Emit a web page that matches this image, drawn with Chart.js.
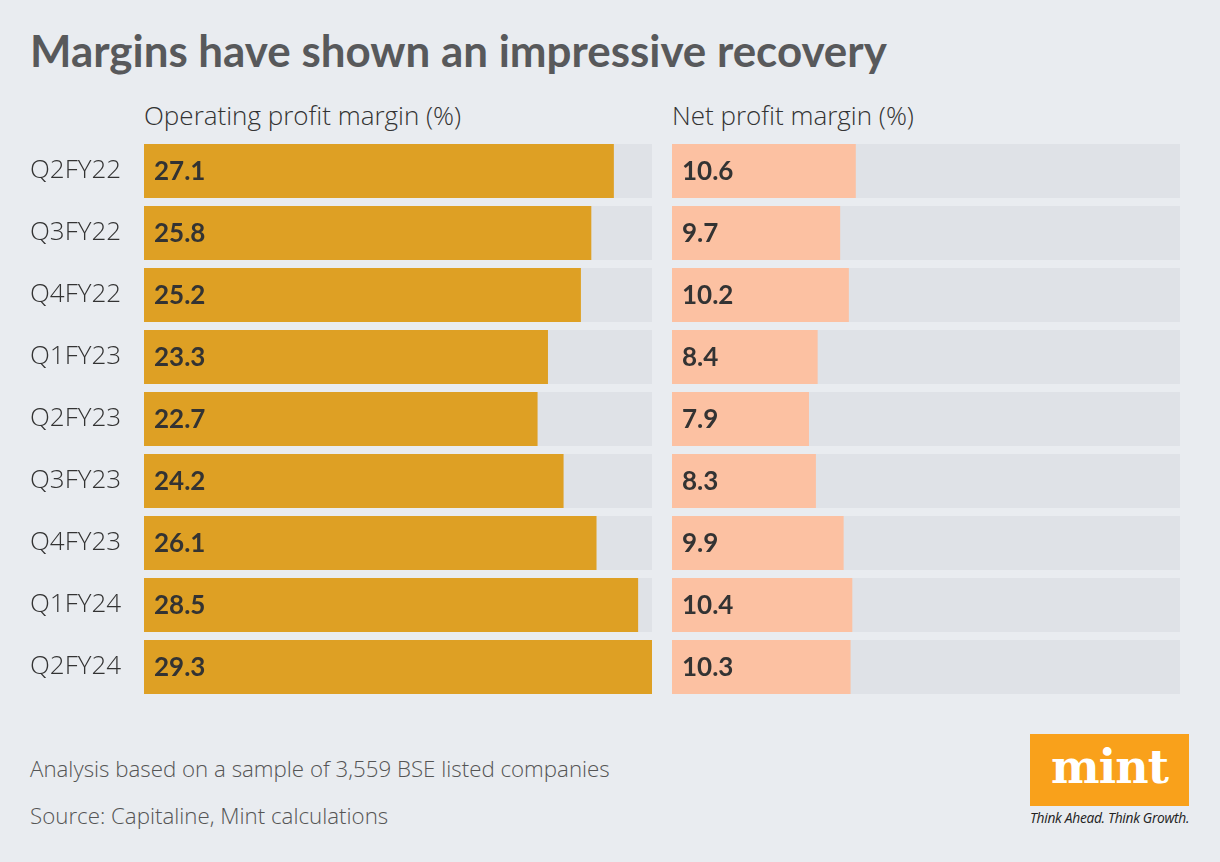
<!DOCTYPE html>
<html>
<head>
<meta charset="utf-8">
<script src="https://cdn.jsdelivr.net/npm/chart.js@4.4.0/dist/chart.umd.min.js"></script>
<style>
  body { margin: 0; background: #e9ecf0; font-family: "Open Sans", sans-serif; }
  #page { position: relative; width: 1220px; height: 862px; overflow: hidden; background: #e9ecf0; }
  .txt { position: absolute; white-space: nowrap; }
  #title { left: 30px; top: 24px; font: 700 43.9px Lato, sans-serif; color: #58595b; }
  .head { top: 97px; font: 300 26px "Open Sans", sans-serif; color: #333; }
  .note { left: 30px; font: 300 22.3px "Open Sans", sans-serif; color: #555; }
  #logo { position: absolute; left: 1030px; top: 734px; width: 159px; height: 72px; background: #f9a11b;
          color: #fff; font: 700 46px "DejaVu Serif", serif; text-align: center; line-height: 66px; letter-spacing: -1px; }
  #tag { left: 1030px; top: 808px; font: italic 500 13.8px "Open Sans", sans-serif; color: #222; letter-spacing: -0.3px; }
  #wrapL { position: absolute; left: 30px; top: 140px; width: 622px; height: 558px; }
  #wrapR { position: absolute; left: 672px; top: 140px; width: 508px; height: 558px; }
</style>
</head>
<body>
<div id="page">
  <div class="txt" id="title">Margins have shown an impressive recovery</div>
  <div class="txt head" style="left:144px">Operating profit margin (%)</div>
  <div class="txt head" style="left:672px">Net profit margin (%)</div>
  <div id="wrapL"><canvas id="left"></canvas></div>
  <div id="wrapR"><canvas id="right"></canvas></div>
  <div class="txt note" style="top:753px">Analysis based on a sample of 3,559 BSE listed companies</div>
  <div class="txt note" style="top:800px">Source: Capitaline, Mint calculations</div>
  <div id="logo">mint</div>
  <div class="txt" id="tag">Think Ahead. Think Growth.</div>
</div>
<script>
const quarters = ['Q2FY22', 'Q3FY22', 'Q4FY22', 'Q1FY23', 'Q2FY23', 'Q3FY23', 'Q4FY23', 'Q1FY24', 'Q2FY24'];
const operatingMargin = [27.1, 25.8, 25.2, 23.3, 22.7, 24.2, 26.1, 28.5, 29.3];
const netMargin = [10.6, 9.7, 10.2, 8.4, 7.9, 8.3, 9.9, 10.4, 10.3];
const axisMax = 29.3;

// value labels drawn inside the bars, near the base
const valueLabels = {
  id: 'valueLabels',
  afterDatasetsDraw(chart) {
    const ctx = chart.ctx;
    const meta = chart.getDatasetMeta(1);
    ctx.save();
    ctx.font = '700 26px Lato, sans-serif';
    ctx.fillStyle = '#333333';
    ctx.textBaseline = 'middle';
    ctx.textAlign = 'left';
    meta.data.forEach((bar, i) => {
      ctx.fillText(chart.data.datasets[1].data[i].toFixed(1), bar.base + 10, bar.y + 1);
    });
    ctx.restore();
  }
};

function makeChart(id, values, color, showLabels) {
  return new Chart(document.getElementById(id), {
    type: 'bar',
    data: {
      labels: quarters,
      datasets: [
        { data: quarters.map(() => axisMax), backgroundColor: '#dfe2e7', order: 2, grouped: false },
        { data: values, backgroundColor: color, order: 1, grouped: false }
      ]
    },
    options: {
      indexAxis: 'y',
      responsive: true,
      maintainAspectRatio: false,
      animation: false,
      layout: { padding: 0 },
      barPercentage: 54 / 62,
      categoryPercentage: 1,
      plugins: { legend: { display: false }, tooltip: { enabled: false } },
      scales: {
        x: { display: false, min: 0, max: axisMax },
        y: {
          display: showLabels,
          grid: { display: false },
          border: { display: false },
          afterFit(scale) {
            if (!showLabels) return;
            scale.width = 114;
            scale.paddingTop = 0;
            scale.paddingBottom = 0;
          },
          ticks: {
            crossAlign: 'far',
            padding: 0,
            color: '#333333',
            font: { family: 'Open Sans', size: 26, weight: '300' }
          }
        }
      }
    },
    plugins: [valueLabels]
  });
}

makeChart('left', operatingMargin, '#dea024', true);
makeChart('right', netMargin, '#fcc1a2', false);
</script>
</body>
</html>
